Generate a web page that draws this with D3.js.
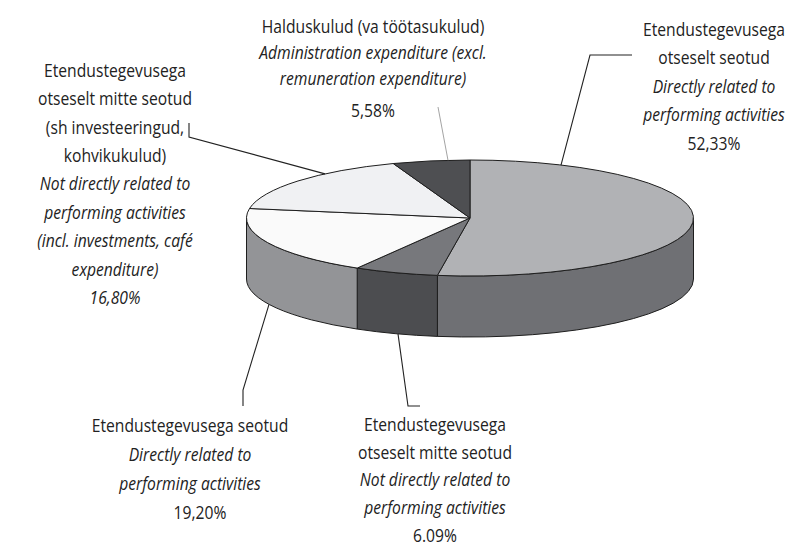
<!DOCTYPE html>
<html>
<head>
<meta charset="utf-8">
<script src="https://cdn.jsdelivr.net/npm/d3@7"></script>
<style>
  html, body { margin: 0; padding: 0; background: #fff; }
  svg { display: block; }
  text { font-family: "Open Sans", "DejaVu Sans", sans-serif; fill: #222; }
</style>
</head>
<body>
<svg id="chart" width="789" height="549"></svg>
<script>
// ---- data ----
const categoriesEt = [
  ["Etendustegevusega", "otseselt seotud"],
  ["Etendustegevusega", "otseselt mitte seotud"],
  ["Etendustegevusega seotud"],
  ["Etendustegevusega", "otseselt mitte seotud", "(sh investeeringud,", "kohvikukulud)"],
  ["Halduskulud (va töötasukulud)"]
];
const categoriesEn = [
  ["Directly related to", "performing activities"],
  ["Not directly related to", "performing activities"],
  ["Directly related to", "performing activities"],
  ["Not directly related to", "performing activities", "(incl. investments, café", "expenditure)"],
  ["Administration expenditure (excl.", "remuneration expenditure)"]
];
const values = [52.33, 6.09, 19.20, 16.80, 5.58];
const valueLabels = ["52,33%", "6.09%", "19,20%", "16,80%", "5,58%"];

// ---- styles / layout ----
const topColors  = ["#b1b2b5", "#77787c", "#fafafa", "#f0f1f3", "#4e4f52"];
const sideColors = ["#6f7074", "#4c4d50", "#939497", "#c8c9cb", "#3a3b3d"];
const cx = 470, cy = 218, rx = 223.5, ry = 58, depth = 61;

const layout = [
  { x: 714, y: 29,  dy: 28.5, vdx: 0,  vgap: 0 },
  { x: 435, y: 424, dy: 27.8, vdx: 0,  vgap: 0 },
  { x: 190, y: 425, dy: 29,   vdx: 10, vgap: 0 },
  { x: 115, y: 70,  dy: 28.4, vdx: 0,  vgap: 0 },
  { x: 373, y: 26,  dy: 26,   vdx: 0,  vgap: 6 }
];
const leaders = [
  { pts: [[632, 55], [590, 55]], to: "top", ex: 561, color: "#222", w: 1.1 },
  { pts: [[420, 406], [408, 406]], to: "bottom", ex: 398, color: "#222", w: 1.1 },
  { pts: [[243, 406], [243, 390]], to: "bottom", ex: 269, color: "#222", w: 1.1 },
  { pts: [[189, 123], [189, 137]], to: "top", ex: 325, color: "#222", w: 1.1 },
  { pts: [[438, 107]], to: "top", ex: 448, color: "#999", w: 0.9 }
];

const svg = d3.select("#chart");
const pie = d3.pie().sort(null).value(d => d)(values);

const colorTop = d3.scaleOrdinal().domain(d3.range(values.length)).range(topColors);
const colorSide = d3.scaleOrdinal().domain(d3.range(values.length)).range(sideColors);

function pt(a, dz = 0) {
  return [cx + rx * Math.sin(a), cy - ry * Math.cos(a) + dz];
}

function topPath(d) {
  const p0 = pt(d.startAngle), p1 = pt(d.endAngle);
  const large = (d.endAngle - d.startAngle) > Math.PI ? 1 : 0;
  return `M${cx},${cy}L${p0[0]},${p0[1]}A${rx},${ry} 0 ${large} 1 ${p1[0]},${p1[1]}Z`;
}

function sidePath(d) {
  const s = Math.max(d.startAngle, Math.PI / 2);
  const e = Math.min(d.endAngle, 3 * Math.PI / 2);
  if (e <= s) return null;
  const a = pt(s), b = pt(e), c = pt(e, depth), f = pt(s, depth);
  const large = (e - s) > Math.PI ? 1 : 0;
  return `M${a[0]},${a[1]}A${rx},${ry} 0 ${large} 1 ${b[0]},${b[1]}` +
         `L${c[0]},${c[1]}A${rx},${ry} 0 ${large} 0 ${f[0]},${f[1]}Z`;
}

const g = svg.append("g");

g.selectAll("path.side")
  .data(pie.filter(d => sidePath(d)))
  .join("path")
  .attr("class", "side")
  .attr("d", sidePath)
  .attr("fill", d => colorSide(d.index))
  .attr("stroke", "#1e1e1e")
  .attr("stroke-width", 1)
  .attr("stroke-linejoin", "round");

g.selectAll("path.top")
  .data(pie)
  .join("path")
  .attr("class", "top")
  .attr("d", topPath)
  .attr("fill", d => colorTop(d.index))
  .attr("stroke", "#1e1e1e")
  .attr("stroke-width", 1)
  .attr("stroke-linejoin", "round");

leaders.forEach(l => {
  const t = (l.ex - cx) / rx;
  const yoff = ry * Math.sqrt(Math.max(0, 1 - t * t));
  const ey = l.to === "top" ? cy - yoff : cy + yoff + depth;
  const pts = l.pts.concat([[l.ex, ey]]);
  svg.append("path")
    .attr("d", d3.line()(pts))
    .attr("fill", "none")
    .attr("stroke", l.color)
    .attr("stroke-width", l.w);
});

// labels, horizontally condensed to mimic the narrow face of the original
const fs = 19;
const probe = svg.append("text").attr("font-size", fs).text("Etendustegevusega");
const k = 142 / probe.node().getComputedTextLength();
probe.remove();

categoriesEt.forEach((et, i) => {
  const L = layout[i];
  const lines = [];
  et.forEach(t => lines.push({ t, italic: false }));
  categoriesEn[i].forEach(t => lines.push({ t, italic: true }));
  lines.push({ t: valueLabels[i], italic: i === 3, value: true });
  const grp = svg.append("g").attr("class", "label");
  lines.forEach((ln, j) => {
    const x = L.x + (ln.value ? L.vdx : 0);
    const y = L.y + j * L.dy + (ln.value ? L.vgap : 0) + fs * 0.36;
    grp.append("text")
      .attr("transform", `translate(${x},${y}) scale(${k},1)`)
      .attr("text-anchor", "middle")
      .attr("font-size", fs)
      .attr("font-style", ln.italic ? "italic" : "normal")
      .text(ln.t);
  });
});
</script>
</body>
</html>
